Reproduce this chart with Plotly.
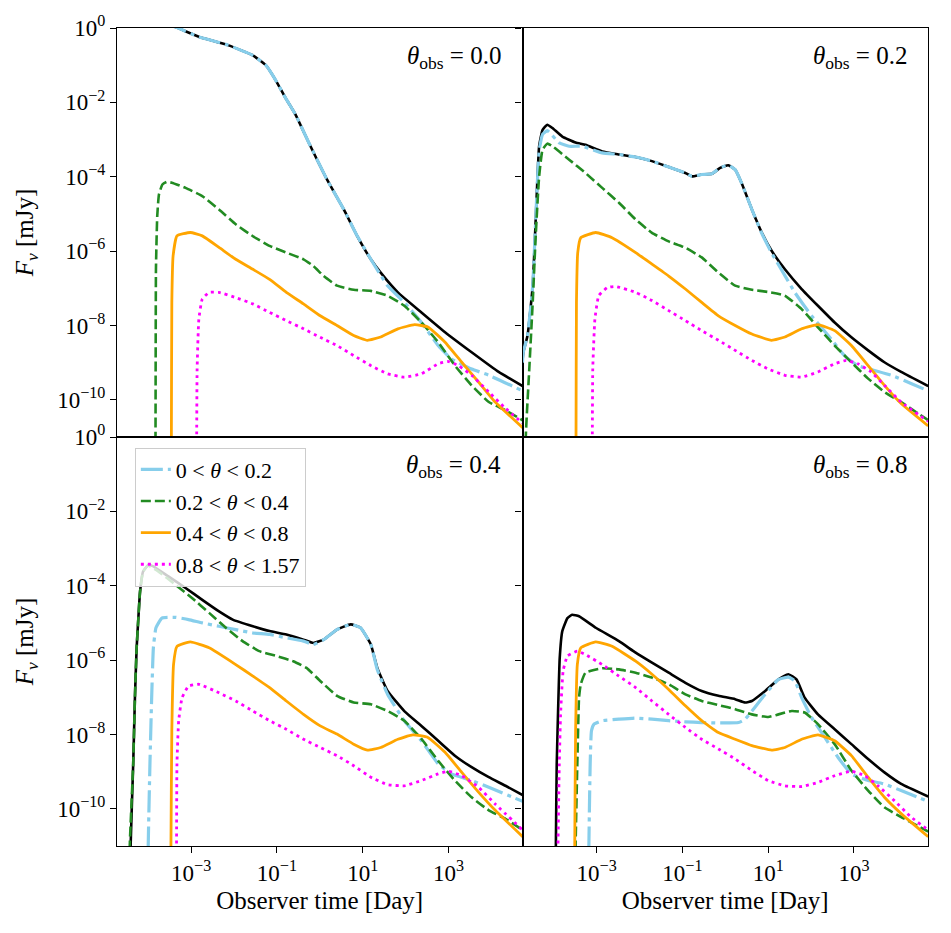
import plotly.graph_objects as go
from plotly.subplots import make_subplots

# ---------------- data (log10 of time [day] and log10 of flux [mJy]) ----------------
panel_labels = ["0.0", "0.2", "0.4", "0.8"]
series_names = ["0 &lt; <i>θ</i> &lt; 0.2", "0.2 &lt; <i>θ</i> &lt; 0.4",
                "0.4 &lt; <i>θ</i> &lt; 0.8", "0.8 &lt; <i>θ</i> &lt; 1.57"]
x_tick_exps = [-3, -1, 1, 3]
y_tick_exps = [0, -2, -4, -6, -8, -10]

# ---- theta_obs = 0.0 ----
p0_total_t = [-3.6, -3.35, -2.81, -2.19, -1.57, -1.26, -1.03, -0.8, -0.56, -0.25, 0.17, 0.56, 0.87, 1.19, 1.42, 1.82, 2.37, 2.92, 3.54, 4.17, 4.73]
p0_total_f = [0.12, 0.02, -0.24, -0.44, -0.73, -1.00, -1.40, -1.88, -2.34, -3.1, -4.08, -4.88, -5.59, -6.22, -6.58, -7.11, -7.65, -8.18, -8.72, -9.25, -9.63]
p0_c1_t = [-3.6, -3.35, -2.81, -2.19, -1.57, -1.26, -1.03, -0.8, -0.56, -0.25, 0.17, 0.56, 0.87, 1.19, 1.42, 1.58, 1.97, 2.37, 2.76, 3.07, 3.54, 3.94, 4.73]
p0_c1_f = [0.12, 0.02, -0.24, -0.44, -0.73, -1.00, -1.40, -1.88, -2.34, -3.1, -4.08, -4.88, -5.59, -6.22, -6.65, -6.93, -7.38, -7.92, -8.54, -8.90, -9.17, -9.34, -9.76]
p0_c2_t = [-3.84, -3.83, -3.82, -3.79, -3.75, -3.67, -3.57, -3.45, -3.13, -2.74, -2.35, -1.96, -1.56, -1.17, -0.78, -0.38, -0.15, 0.09, 0.40, 0.79, 1.19, 1.58, 1.97, 2.37, 2.76, 3.15, 3.54, 3.94, 4.33, 4.73]
p0_c2_f = [-13, -10.9, -6.49, -5.06, -4.48, -4.21, -4.14, -4.16, -4.30, -4.52, -4.88, -5.28, -5.60, -5.86, -6.04, -6.22, -6.40, -6.67, -6.93, -7.04, -7.07, -7.20, -7.47, -7.92, -8.45, -9.08, -9.61, -10.06, -10.28, -10.55]
p0_c3_t = [-3.47, -3.46, -3.45, -3.42, -3.33, -3.02, -2.74, -2.35, -1.96, -1.56, -1.17, -0.78, -0.38, 0.01, 0.40, 0.79, 1.11, 1.42, 1.82, 2.21, 2.52, 2.92, 3.31, 3.70, 4.09, 4.73]
p0_c3_f = [-13, -10.9, -7.38, -6.13, -5.59, -5.50, -5.59, -5.90, -6.22, -6.49, -6.76, -7.11, -7.42, -7.74, -8.00, -8.27, -8.40, -8.31, -8.09, -7.98, -8.04, -8.45, -8.99, -9.52, -10.06, -10.75]
p0_c4_t = [-2.88, -2.87, -2.86, -2.82, -2.74, -2.58, -2.35, -1.96, -1.56, -1.17, -0.78, -0.38, 0.01, 0.40, 0.79, 1.19, 1.58, 1.97, 2.37, 2.76, 3.00, 3.23, 3.54, 3.94, 4.33, 4.73]
p0_c4_f = [-13, -10.9, -9.17, -7.83, -7.29, -7.11, -7.11, -7.25, -7.42, -7.65, -7.87, -8.09, -8.32, -8.54, -8.81, -9.08, -9.30, -9.39, -9.30, -9.03, -8.97, -9.08, -9.34, -9.79, -10.23, -10.63]

# ---- theta_obs = 0.2 ----
p1_total_t = [-4.73, -4.71, -4.61, -4.49, -4.42, -4.34, -4.26, -4.15, -4.03, -3.80, -3.49, -3.26, -2.87, -2.48, -2.09, -1.71, -1.32, -0.93, -0.78, -0.55, -0.31, -0.12, 0.07, 0.23, 0.38, 0.62, 0.85, 1.08, 1.39, 1.78, 2.16, 2.55, 2.94, 3.33, 3.71, 4.10, 4.73]
p1_total_f = [-9.0, -8.72, -8.27, -6.93, -5.15, -3.18, -2.74, -2.60, -2.69, -2.92, -3.08, -3.14, -3.32, -3.40, -3.47, -3.58, -3.74, -3.90, -3.99, -3.94, -3.92, -3.76, -3.69, -3.81, -4.17, -4.88, -5.50, -5.99, -6.49, -7.02, -7.47, -7.92, -8.32, -8.67, -8.99, -9.25, -9.63]
p1_c1_t = [-4.73, -4.71, -4.61, -4.49, -4.42, -4.34, -4.26, -4.15, -3.87, -3.64, -3.33, -2.87, -2.48, -2.09, -1.71, -1.32, -0.93, -0.78, -0.55, -0.31, -0.12, 0.07, 0.23, 0.38, 0.62, 0.85, 1.08, 1.39, 1.62, 2.01, 2.40, 2.78, 3.09, 3.48, 3.87, 4.33, 4.73]
p1_c1_f = [-9.0, -8.72, -8.27, -6.93, -5.15, -3.3, -2.86, -2.76, -3.09, -3.18, -3.18, -3.36, -3.40, -3.47, -3.58, -3.74, -3.90, -3.99, -3.94, -3.92, -3.76, -3.69, -3.81, -4.17, -4.88, -5.52, -6.05, -6.66, -7.11, -7.74, -8.27, -8.81, -9.08, -9.21, -9.34, -9.56, -9.76]
p1_c2_t = [-4.66, -4.65, -4.57, -4.49, -4.42, -4.34, -4.26, -4.15, -4.03, -3.64, -3.26, -2.87, -2.48, -2.09, -1.71, -1.32, -0.93, -0.55, -0.16, 0.23, 0.62, 1.00, 1.39, 1.78, 2.16, 2.55, 2.94, 3.33, 3.71, 4.10, 4.73]
p1_c2_f = [-13, -10.95, -9.17, -7.38, -5.59, -3.99, -3.27, -3.11, -3.18, -3.54, -3.90, -4.30, -4.70, -5.15, -5.51, -5.74, -5.91, -6.17, -6.58, -6.93, -7.04, -7.10, -7.20, -7.56, -8.05, -8.54, -8.99, -9.43, -9.79, -10.06, -10.55]
p1_c3_t = [-3.49, -3.48, -3.47, -3.44, -3.37, -3.02, -2.64, -2.09, -1.71, -1.32, -0.93, -0.55, -0.16, 0.23, 0.62, 1.08, 1.39, 1.78, 2.16, 2.55, 2.94, 3.33, 3.71, 4.10, 4.73]
p1_c3_f = [-13, -10.9, -7.38, -6.04, -5.64, -5.50, -5.64, -6.04, -6.35, -6.67, -7.02, -7.38, -7.74, -8.00, -8.23, -8.40, -8.31, -8.09, -7.98, -8.14, -8.54, -9.08, -9.61, -10.10, -10.70]
p1_c4_t = [-3.11, -3.10, -3.09, -3.04, -2.95, -2.75, -2.56, -2.09, -1.71, -1.32, -0.93, -0.55, -0.16, 0.23, 0.62, 1.00, 1.39, 1.78, 2.16, 2.55, 2.82, 3.09, 3.40, 3.71, 4.10, 4.73]
p1_c4_f = [-13, -10.9, -9.17, -7.83, -7.20, -6.98, -6.95, -7.11, -7.33, -7.60, -7.87, -8.14, -8.40, -8.67, -8.94, -9.17, -9.34, -9.39, -9.25, -9.03, -8.94, -9.03, -9.25, -9.61, -10.06, -10.58]

# ---- theta_obs = 0.4 ----
p2_total_t = [-4.42, -4.41, -4.35, -4.31, -4.27, -4.23, -4.19, -4.12, -4.00, -3.88, -3.53, -3.13, -2.74, -2.35, -2.03, -1.56, -1.17, -0.78, -0.38, -0.15, 0.09, 0.40, 0.72, 0.95, 1.19, 1.34, 1.58, 1.97, 2.37, 2.76, 3.15, 3.54, 3.94, 4.33, 4.73]
p2_total_f = [-13, -10.98, -8.79, -7.01, -5.67, -4.87, -4.15, -3.62, -3.44, -3.48, -3.75, -4.06, -4.38, -4.69, -4.91, -5.09, -5.22, -5.31, -5.45, -5.54, -5.45, -5.18, -5.04, -5.13, -5.58, -6.21, -6.83, -7.37, -7.77, -8.17, -8.57, -8.88, -9.15, -9.38, -9.63]
p2_c1_t = [-4.01, -4.00, -3.96, -3.92, -3.88, -3.82, -3.68, -3.37, -3.06, -2.74, -2.35, -1.96, -1.56, -1.17, -0.78, -0.38, -0.15, 0.09, 0.40, 0.72, 0.95, 1.19, 1.34, 1.58, 1.97, 2.37, 2.76, 3.07, 3.54, 3.94, 4.73]
p2_c1_f = [-13, -10.98, -8.79, -7.01, -5.67, -5.13, -4.87, -4.85, -4.91, -5.00, -5.09, -5.18, -5.27, -5.31, -5.40, -5.49, -5.58, -5.45, -5.18, -5.04, -5.13, -5.58, -6.25, -6.92, -7.63, -8.17, -8.79, -9.06, -9.24, -9.42, -9.80]
p2_c2_t = [-4.44, -4.43, -4.35, -4.31, -4.27, -4.23, -4.19, -4.12, -4.00, -3.76, -3.37, -2.98, -2.58, -2.19, -1.80, -1.41, -1.01, -0.62, -0.31, 0.01, 0.40, 0.79, 1.19, 1.58, 1.97, 2.37, 2.76, 3.15, 3.54, 3.94, 4.33, 4.73]
p2_c2_f = [-13, -10.98, -8.79, -7.01, -5.67, -4.87, -4.15, -3.62, -3.46, -3.62, -3.97, -4.33, -4.73, -5.13, -5.49, -5.76, -5.89, -6.03, -6.21, -6.56, -6.96, -7.14, -7.19, -7.37, -7.63, -8.12, -8.71, -9.24, -9.69, -10.04, -10.27, -10.57]
p2_c3_t = [-3.48, -3.47, -3.45, -3.41, -3.33, -3.02, -2.58, -1.96, -1.56, -1.17, -0.78, -0.38, 0.01, 0.40, 0.79, 1.11, 1.42, 1.82, 2.17, 2.52, 2.92, 3.31, 3.70, 4.09, 4.73]
p2_c3_f = [-13, -10.98, -7.90, -6.12, -5.63, -5.51, -5.67, -6.12, -6.43, -6.74, -7.10, -7.46, -7.77, -7.99, -8.26, -8.42, -8.35, -8.13, -8.01, -8.08, -8.48, -9.02, -9.55, -10.04, -10.75]
p2_c4_t = [-3.35, -3.34, -3.33, -3.29, -3.21, -3.06, -2.82, -2.35, -1.96, -1.56, -1.17, -0.78, -0.38, 0.01, 0.40, 0.79, 1.19, 1.58, 1.97, 2.37, 2.76, 3.00, 3.31, 3.70, 4.09, 4.73]
p2_c4_f = [-13, -10.98, -8.79, -7.63, -7.01, -6.70, -6.65, -6.88, -7.10, -7.37, -7.63, -7.86, -8.13, -8.35, -8.57, -8.84, -9.15, -9.35, -9.38, -9.24, -9.06, -8.99, -9.11, -9.42, -9.87, -10.57]

# ---- theta_obs = 0.8 ----
p3_total_t = [-3.96, -3.95, -3.93, -3.89, -3.86, -3.80, -3.68, -3.57, -3.41, -3.02, -2.48, -2.09, -1.71, -1.32, -0.93, -0.55, -0.16, 0.23, 0.46, 0.62, 0.93, 1.24, 1.47, 1.66, 1.85, 2.16, 2.55, 2.94, 3.33, 3.71, 4.10, 4.73]
p3_total_f = [-13, -10.98, -8.79, -7.01, -5.94, -5.22, -4.87, -4.78, -4.82, -5.13, -5.49, -5.80, -6.07, -6.34, -6.61, -6.83, -6.96, -7.05, -7.14, -7.10, -6.83, -6.52, -6.38, -6.52, -7.01, -7.46, -7.86, -8.26, -8.66, -9.02, -9.33, -9.67]
p3_c1_t = [-3.19, -3.18, -3.15, -3.12, -3.06, -2.87, -2.48, -2.09, -1.71, -1.32, -0.93, -0.55, -0.16, 0.31, 0.46, 0.62, 0.93, 1.24, 1.47, 1.62, 1.78, 2.01, 2.32, 2.63, 2.94, 3.33, 3.71, 4.10, 4.73]
p3_c1_f = [-13, -10.98, -8.79, -7.90, -7.72, -7.63, -7.59, -7.56, -7.59, -7.63, -7.66, -7.68, -7.69, -7.68, -7.59, -7.37, -6.92, -6.52, -6.46, -6.56, -7.01, -7.54, -8.08, -8.62, -9.06, -9.24, -9.33, -9.51, -9.80]
p3_c2_t = [-3.50, -3.49, -3.45, -3.41, -3.37, -3.26, -2.87, -2.48, -2.09, -1.71, -1.32, -0.93, -0.55, -0.16, 0.23, 0.62, 1.00, 1.24, 1.55, 1.85, 2.16, 2.55, 2.94, 3.33, 3.71, 4.10, 4.73]
p3_c2_f = [-13, -10.98, -8.79, -7.01, -6.65, -6.34, -6.22, -6.25, -6.34, -6.47, -6.65, -6.92, -7.10, -7.21, -7.32, -7.46, -7.53, -7.46, -7.37, -7.41, -7.72, -8.26, -8.97, -9.51, -9.96, -10.22, -10.61]
p3_c3_t = [-3.52, -3.51, -3.49, -3.45, -3.37, -3.02, -2.64, -2.09, -1.71, -1.32, -0.93, -0.55, -0.16, 0.23, 0.62, 1.08, 1.39, 1.78, 2.16, 2.55, 2.94, 3.33, 3.71, 4.10, 4.73]
p3_c3_f = [-13, -10.98, -7.90, -6.12, -5.67, -5.51, -5.63, -6.03, -6.38, -6.79, -7.23, -7.63, -7.95, -8.13, -8.30, -8.42, -8.35, -8.13, -8.01, -8.17, -8.57, -9.15, -9.69, -10.13, -10.75]
p3_c4_t = [-3.91, -3.90, -3.87, -3.84, -3.78, -3.68, -3.45, -3.26, -2.87, -2.48, -2.09, -1.71, -1.32, -0.93, -0.55, -0.16, 0.23, 0.62, 1.00, 1.39, 1.78, 2.16, 2.55, 2.94, 3.25, 3.56, 3.94, 4.33, 4.73]
p3_c4_f = [-13, -10.98, -8.79, -7.46, -6.29, -5.89, -5.76, -5.85, -6.12, -6.43, -6.74, -7.10, -7.46, -7.81, -8.13, -8.39, -8.66, -8.97, -9.24, -9.38, -9.40, -9.29, -9.11, -8.99, -9.11, -9.38, -9.78, -10.22, -10.57]

panels = [
    (p0_total_t, p0_total_f, [(p0_c1_t, p0_c1_f), (p0_c2_t, p0_c2_f), (p0_c3_t, p0_c3_f), (p0_c4_t, p0_c4_f)]),
    (p1_total_t, p1_total_f, [(p1_c1_t, p1_c1_f), (p1_c2_t, p1_c2_f), (p1_c3_t, p1_c3_f), (p1_c4_t, p1_c4_f)]),
    (p2_total_t, p2_total_f, [(p2_c1_t, p2_c1_f), (p2_c2_t, p2_c2_f), (p2_c3_t, p2_c3_f), (p2_c4_t, p2_c4_f)]),
    (p3_total_t, p3_total_f, [(p3_c1_t, p3_c1_f), (p3_c2_t, p3_c2_f), (p3_c3_t, p3_c3_f), (p3_c4_t, p3_c4_f)]),
]

# ---------------- styles ----------------
colors = ["#87CEEB", "#228B22", "#FFA500", "#FF00FF"]
dashes = ["22px,5px,4px,5px", "10px,4px", "solid", "3px,4px"]
widths = [3.2, 2.6, 2.8, 2.8]
FONT = "Liberation Serif"

fig = make_subplots(rows=2, cols=2, shared_xaxes=True, shared_yaxes=True,
                    horizontal_spacing=0, vertical_spacing=0)

pos = [(1, 1), (1, 2), (2, 1), (2, 2)]
for k, (tt, ff, comps) in enumerate(panels):
    r, c = pos[k]
    fig.add_trace(go.Scatter(x=[10 ** v for v in tt], y=[10 ** v for v in ff], mode="lines",
                             line=dict(color="black", width=2.6, shape="spline", smoothing=0.4),
                             showlegend=False, hoverinfo="skip"), row=r, col=c)
    for j, (ct, cf) in enumerate(comps):
        fig.add_trace(go.Scatter(x=[10 ** v for v in ct], y=[10 ** v for v in cf], mode="lines",
                                 name=series_names[j],
                                 line=dict(color=colors[j], width=widths[j], dash=dashes[j],
                                           shape="spline", smoothing=0.4),
                                 showlegend=(k == 2), hoverinfo="skip"), row=r, col=c)

xt_vals = [10.0 ** e for e in x_tick_exps]
xt_text = ["10<sup>%s</sup>" % str(e).replace("-", "−") for e in x_tick_exps]
yt_vals = [10.0 ** e for e in y_tick_exps]
yt_text = ["10<sup>%s</sup>" % str(e).replace("-", "−") for e in y_tick_exps]

for r in (1, 2):
    for c in (1, 2):
        fig.update_xaxes(type="log", range=[-4.728, 4.726], tickvals=xt_vals, ticktext=xt_text,
                         showline=True, mirror=True, linecolor="black", linewidth=1.1,
                         ticks="outside" if r == 2 else "", ticklen=6, tickwidth=1.2, tickcolor="black",
                         showticklabels=(r == 2), showgrid=False, zeroline=False,
                         tickfont=dict(family=FONT, size=23, color="black"), row=r, col=c)
        fig.update_yaxes(type="log", range=[-11, 0.0005], tickvals=yt_vals, ticktext=yt_text,
                         showline=True, mirror=True, linecolor="black", linewidth=1.1,
                         ticks="outside", ticklen=6, tickwidth=1.2, tickcolor="black",
                         showticklabels=(c == 1), showgrid=False, zeroline=False,
                         tickfont=dict(family=FONT, size=23, color="black"), row=r, col=c)

for c in (1, 2):
    fig.update_xaxes(title=dict(text="Observer time [Day]", font=dict(family=FONT, size=25, color="black"),
                                standoff=6), row=2, col=c)
for r in (1, 2):
    fig.update_yaxes(title=dict(text="<i>F<sub>ν</sub></i> [mJy]", font=dict(family=FONT, size=25, color="black"),
                                standoff=16), row=r, col=1)

axis_names = [("x", "y"), ("x2", "y2"), ("x3", "y3"), ("x4", "y4")]
for k, lab in enumerate(panel_labels):
    xa, ya = axis_names[k]
    fig.add_annotation(xref=xa + " domain", yref=ya + " domain", x=0.952, y=0.928,
                       xanchor="right", yanchor="middle", showarrow=False,
                       text="<i>θ</i><sub>obs</sub> = " + lab,
                       font=dict(family=FONT, size=25, color="black"))

fig.update_layout(
    width=951, height=933,
    margin=dict(l=117, r=23, t=24, b=87),
    plot_bgcolor="white", paper_bgcolor="white",
    legend=dict(x=0.022, y=0.487, xanchor="left", yanchor="top",
                bgcolor="rgba(255,255,255,0.8)", bordercolor="#cccccc", borderwidth=1,
                font=dict(family=FONT, size=22, color="black"), tracegroupgap=0),
)

fig.write_html("out.html")
